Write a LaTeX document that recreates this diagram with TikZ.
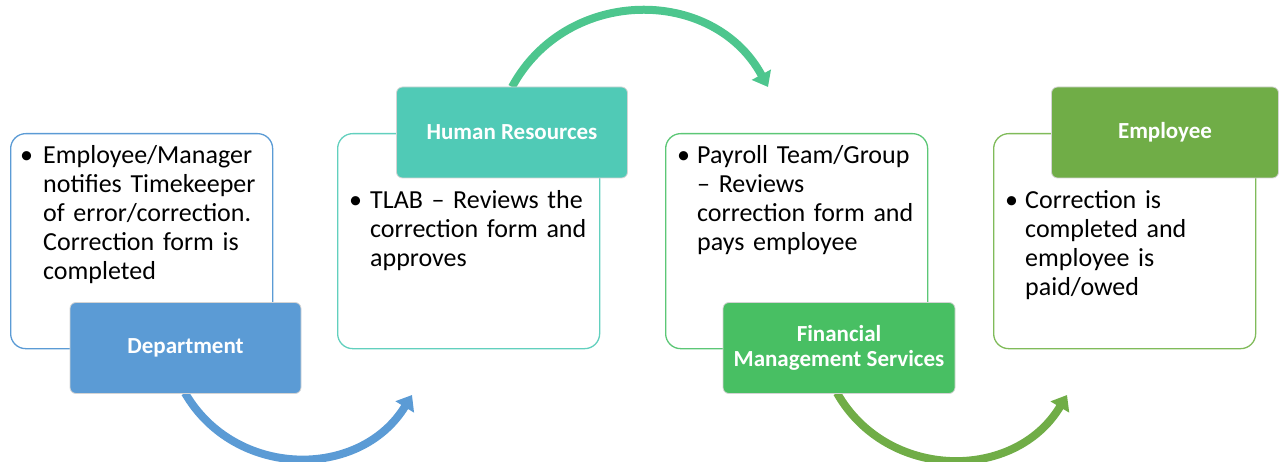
\documentclass[tikz,border=0pt]{standalone}
\usepackage{fontspec}
\setmainfont{Carlito}
\usetikzlibrary{arrows.meta}

\definecolor{deptblue}{HTML}{5B9BD5}
\definecolor{hrteal}{HTML}{50CAB6}
\definecolor{hredge}{HTML}{62D0BE}
\definecolor{hrarc}{HTML}{4DC68E}
\definecolor{fmsgreen}{HTML}{48BF63}
\definecolor{fmsedge}{HTML}{5CC776}
\definecolor{empgreen}{HTML}{70AD47}
\definecolor{empedge}{HTML}{80BB5A}

\tikzset{
  stagebox/.style={draw, line width=1.3pt, fill=white, rounded corners=15pt,
    minimum width=262pt, minimum height=215pt, anchor=north west, inner sep=0pt},
  titlebox/.style={draw=black!17, line width=0.8pt, rounded corners=6pt,
    text=white, font=\fontsize{23}{25}\selectfont\bfseries, align=center,
    minimum height=91pt, inner sep=0pt},
  bulletmark/.style={anchor=base west, inner sep=0pt, font=\fontsize{26}{29}\selectfont},
  bodytext/.style={anchor=base west, inner sep=0pt, text width=250pt, align=left,
    font=\fontsize{26}{28.8}\selectfont},
  flow/.style={line width=8pt, -{Triangle[width=21pt,length=14pt]}}
}

\begin{document}
\begin{tikzpicture}[x=1pt,y=-1pt]
  \useasboundingbox (0,0) rectangle (1279,462);

  % stage boxes
  \node[stagebox, draw=deptblue] (s1) at (10,133) {};
  \node[stagebox, draw=hredge]   (s2) at (337,133) {};
  \node[stagebox, draw=fmsedge]  (s3) at (665,133) {};
  \node[stagebox, draw=empedge]  (s4) at (993,133) {};

  % curved arrows between stages
  \coordinate (a1s) at (185,393);  \coordinate (a1e) at (412,395);
  \coordinate (a2s) at (512,87);   \coordinate (a2e) at (768,87);
  \coordinate (a3s) at (837,393);  \coordinate (a3e) at (1067,395);
  \draw[flow, deptblue] (a1s) .. controls (235,479) and (360,480) .. (a1e);
  \draw[flow, hrarc]    (a2s) .. controls (566.6,-14) and (713.4,-14) .. (a2e);
  \draw[flow, empgreen] (a3s) .. controls (887,481) and (1015,482) .. (a3e);

  % title boxes
  \node[titlebox, fill=deptblue, minimum width=231pt] (t1) at (185.5,348) {Department};
  \node[titlebox, fill=hrteal,   minimum width=231pt] (t2) at (512,132.5) {Human Resources};
  \node[titlebox, fill=fmsgreen, minimum width=232pt] (t3) at (839,348) {Financial\\Management Services};
  \node[titlebox, fill=empgreen, minimum width=227pt] (t4) at (1165,132.5) {Employee};

  % bullet texts
  \node[bulletmark] (m1) at (20,164) {\textbullet};
  \node[bodytext]   (b1) at (43,164) {Employee/Manager\\notifies Timekeeper\\of error/correction.\\Correction form is\\completed};

  \node[bulletmark] (m2) at (349,209) {\textbullet};
  \node[bodytext]   (b2) at (370,209) {TLAB -- Reviews the\\correction form and\\approves};

  \node[bulletmark] (m3) at (677,164) {\textbullet};
  \node[bodytext]   (b3) at (697,164) {Payroll Team/Group\\-- Reviews\\correction form and\\pays employee};

  \node[bulletmark] (m4) at (1005,209) {\textbullet};
  \node[bodytext]   (b4) at (1025,209) {Correction is\\completed and\\employee is\\paid/owed};
\end{tikzpicture}
\end{document}
